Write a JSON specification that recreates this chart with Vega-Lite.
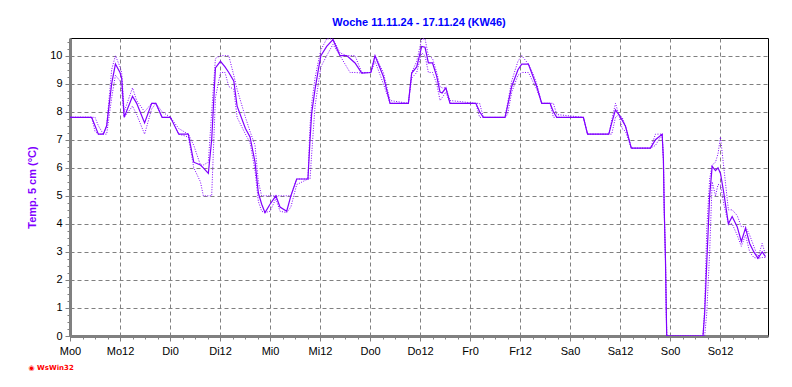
{
  "$schema": "https://vega.github.io/schema/vega-lite/v6.json",
  "width": 698,
  "height": 298,
  "autosize": "none",
  "padding": {"left": 70, "top": 38, "right": 24, "bottom": 51},
  "background": "white",
  "config": {"view": {"stroke": "black", "strokeWidth": 1}, "font": "Liberation Sans"},
  "title": {"text": "Woche 11.11.24 - 17.11.24 (KW46)", "color": "#0000ff", "fontSize": 11, "fontWeight": "bold", "font": "Liberation Sans", "offset": 10, "anchor": "middle"},
  "data": {"values": [
    {"h":0,"a":7.8,"mx":7.8,"mn":7.8},{"h":5.2,"a":7.8,"mx":7.8,"mn":7.8},{"h":6.0,"a":7.5,"mx":7.8,"mn":7.3},{"h":6.8,"a":7.2,"mx":7.5,"mn":7.2},
    {"h":8.0,"a":7.2,"mx":7.2,"mn":7.2},{"h":8.8,"a":7.5,"mx":7.5,"mn":7.2},{"h":10.0,"a":9.0,"mx":9.5,"mn":8.5},{"h":10.9,"a":9.7,"mx":10.0,"mn":9.3},
    {"h":12.0,"a":9.4,"mx":9.6,"mn":9.1},{"h":12.4,"a":9.2,"mx":9.4,"mn":8.8},{"h":13.0,"a":7.8,"mx":8.0,"mn":7.8},{"h":15.0,"a":8.55,"mx":8.85,"mn":8.2},
    {"h":16.0,"a":8.3,"mx":8.4,"mn":7.9},{"h":17.9,"a":7.6,"mx":8.0,"mn":7.2},{"h":19.6,"a":8.3,"mx":8.3,"mn":8.1},{"h":20.6,"a":8.3,"mx":8.3,"mn":8.3},
    {"h":22.1,"a":7.8,"mx":8.0,"mn":7.8},{"h":24.1,"a":7.8,"mx":7.8,"mn":7.8},{"h":26.1,"a":7.2,"mx":7.4,"mn":7.2},{"h":28.4,"a":7.2,"mx":7.2,"mn":7.1},
    {"h":29.7,"a":6.2,"mx":6.8,"mn":6.0},{"h":31.3,"a":6.1,"mx":6.1,"mn":5.5},{"h":32.0,"a":6.0,"mx":6.1,"mn":5.0},{"h":33.2,"a":5.8,"mx":6.2,"mn":5.0},
    {"h":34.0,"a":7.0,"mx":8.0,"mn":5.0},{"h":34.9,"a":9.56,"mx":9.9,"mn":8.5},{"h":36.1,"a":9.8,"mx":10.0,"mn":9.4},{"h":37.2,"a":9.6,"mx":10.0,"mn":9.4},
    {"h":38.1,"a":9.4,"mx":10.0,"mn":8.9},{"h":39.3,"a":9.1,"mx":9.3,"mn":8.8},{"h":40.1,"a":8.2,"mx":8.8,"mn":7.8},{"h":42.1,"a":7.4,"mx":7.8,"mn":7.2},
    {"h":43.2,"a":7.1,"mx":7.3,"mn":6.9},{"h":44.4,"a":6.2,"mx":6.8,"mn":5.9},{"h":45.2,"a":5.1,"mx":5.5,"mn":4.8},{"h":46.0,"a":4.7,"mx":5.0,"mn":4.45},
    {"h":46.8,"a":4.4,"mx":5.0,"mn":4.4},{"h":48.0,"a":4.7,"mx":5.0,"mn":4.45},{"h":49.4,"a":5.0,"mx":5.0,"mn":4.9},{"h":50.4,"a":4.6,"mx":5.0,"mn":4.45},
    {"h":52.0,"a":4.45,"mx":5.0,"mn":4.4},{"h":53.0,"a":5.0,"mx":5.0,"mn":4.6},{"h":54.4,"a":5.6,"mx":5.6,"mn":5.4},{"h":57.1,"a":5.6,"mx":5.6,"mn":5.6},
    {"h":57.6,"a":7.0,"mx":7.5,"mn":5.6},{"h":58.0,"a":7.95,"mx":8.3,"mn":6.5},{"h":58.8,"a":8.8,"mx":9.2,"mn":8.2},{"h":59.6,"a":9.5,"mx":9.8,"mn":9.0},
    {"h":60.2,"a":10.0,"mx":10.2,"mn":9.6},{"h":61.6,"a":10.33,"mx":10.6,"mn":10.0},{"h":63.1,"a":10.57,"mx":10.6,"mn":10.4},{"h":64.8,"a":10.0,"mx":10.1,"mn":10.0},
    {"h":66.4,"a":10.0,"mx":10.0,"mn":9.6},{"h":67.2,"a":9.9,"mx":10.0,"mn":9.4},{"h":68.4,"a":9.74,"mx":10.0,"mn":9.4},{"h":70.0,"a":9.38,"mx":9.4,"mn":9.38},
    {"h":72.2,"a":9.4,"mx":9.4,"mn":9.4},{"h":73.2,"a":10.0,"mx":10.0,"mn":9.8},{"h":75.2,"a":9.26,"mx":9.4,"mn":9.0},{"h":76.8,"a":8.3,"mx":8.4,"mn":8.3},
    {"h":81.2,"a":8.3,"mx":8.3,"mn":8.3},{"h":82.0,"a":9.38,"mx":9.4,"mn":9.2},{"h":83.2,"a":9.6,"mx":9.8,"mn":9.4},{"h":84.4,"a":10.33,"mx":10.6,"mn":10.1},
    {"h":85.2,"a":10.3,"mx":10.6,"mn":10.0},{"h":86.0,"a":9.74,"mx":10.0,"mn":9.4},{"h":87.0,"a":9.74,"mx":9.9,"mn":9.4},{"h":88.0,"a":9.26,"mx":9.4,"mn":9.0},
    {"h":88.8,"a":8.7,"mx":8.9,"mn":8.4},{"h":89.3,"a":8.67,"mx":8.85,"mn":8.5},{"h":90.2,"a":8.85,"mx":8.85,"mn":8.7},{"h":91.2,"a":8.3,"mx":8.4,"mn":8.3},
    {"h":97.4,"a":8.3,"mx":8.3,"mn":8.3},{"h":98.3,"a":8.0,"mx":8.3,"mn":7.8},{"h":99.2,"a":7.8,"mx":7.8,"mn":7.8},{"h":104.4,"a":7.8,"mx":7.8,"mn":7.8},
    {"h":105.0,"a":8.2,"mx":8.3,"mn":7.9},{"h":106.0,"a":8.9,"mx":9.1,"mn":8.7},{"h":107.5,"a":9.5,"mx":9.8,"mn":9.3},{"h":108.4,"a":9.7,"mx":10.0,"mn":9.4},
    {"h":110.0,"a":9.7,"mx":9.7,"mn":9.4},{"h":111.0,"a":9.3,"mx":9.4,"mn":9.1},{"h":112.0,"a":8.9,"mx":9.0,"mn":8.8},{"h":113.2,"a":8.3,"mx":8.3,"mn":8.3},
    {"h":115.2,"a":8.3,"mx":8.3,"mn":8.3},{"h":116.0,"a":8.0,"mx":8.3,"mn":7.8},{"h":116.8,"a":7.8,"mx":7.9,"mn":7.8},{"h":123.2,"a":7.8,"mx":7.8,"mn":7.8},
    {"h":124.2,"a":7.2,"mx":7.2,"mn":7.2},{"h":129.3,"a":7.2,"mx":7.2,"mn":7.2},{"h":130.0,"a":7.6,"mx":7.7,"mn":7.2},{"h":130.9,"a":8.07,"mx":8.3,"mn":7.8},
    {"h":131.7,"a":7.9,"mx":7.9,"mn":7.9},{"h":132.5,"a":7.7,"mx":7.8,"mn":7.4},{"h":133.3,"a":7.48,"mx":7.5,"mn":7.3},{"h":134.7,"a":6.7,"mx":6.7,"mn":6.7},
    {"h":139.3,"a":6.7,"mx":6.7,"mn":6.7},{"h":140.5,"a":7.0,"mx":7.2,"mn":6.8},{"h":142.1,"a":7.2,"mx":7.2,"mn":7.2},{"h":142.4,"a":6.3,"mx":6.3,"mn":6.3},
    {"h":142.6,"a":4.5,"mx":4.5,"mn":4.5},{"h":142.9,"a":2.7,"mx":2.7,"mn":2.7},{"h":143.1,"a":0.8,"mx":0.8,"mn":0.8},{"h":143.2,"a":0,"mx":0,"mn":0},
    {"h":151.9,"a":0,"mx":0,"mn":0},{"h":152.3,"a":0.8,"mx":1.0,"mn":0},{"h":152.8,"a":2.6,"mx":3.8,"mn":0.8},{"h":153.5,"a":5.0,"mx":5.6,"mn":3.0},
    {"h":154.1,"a":6.05,"mx":6.1,"mn":5.5},{"h":154.9,"a":5.9,"mx":6.2,"mn":5.0},{"h":155.5,"a":6.0,"mx":6.5,"mn":5.4},{"h":156.1,"a":5.8,"mx":7.1,"mn":5.4},
    {"h":156.9,"a":5.1,"mx":6.0,"mn":4.7},{"h":158.0,"a":4.0,"mx":4.5,"mn":4.0},{"h":158.9,"a":4.26,"mx":4.5,"mn":4.0},{"h":160.1,"a":3.9,"mx":4.3,"mn":3.6},
    {"h":161.1,"a":3.37,"mx":3.9,"mn":3.2},{"h":162.1,"a":3.85,"mx":3.9,"mn":3.6},{"h":163.1,"a":3.3,"mx":3.6,"mn":3.0},{"h":164.1,"a":3.0,"mx":3.2,"mn":2.8},
    {"h":165.1,"a":2.77,"mx":2.8,"mn":2.77},{"h":166.1,"a":3.0,"mx":3.3,"mn":2.8},{"h":166.9,"a":2.83,"mx":2.9,"mn":2.8}
  ]},
  "layer": [
    {
      "mark": {"type": "line", "color": "#8000ff", "strokeWidth": 1, "strokeDash": [1, 1.5], "clip": true},
      "encoding": {
        "x": {"field": "h", "type": "quantitative", "scale": {"domain": [0, 167.5], "nice": false, "zero": false},
          "axis": {"values": [0,12,24,36,48,60,72,84,96,108,120,132,144,156],
            "labelExpr": "['Mo','Di','Mi','Do','Fr','Sa','So'][floor(datum.value/24)] + (datum.value % 24)",
            "grid": true, "gridColor": "#808080", "gridDash": [4, 3], "gridWidth": 1, "gridOpacity": 1,
            "domainColor": "#808080", "domainWidth": 3, "tickColor": "#808080", "tickSize": 5, "tickWidth": 1,
            "labelFont": "Liberation Sans", "labelFontSize": 11, "labelColor": "black", "labelPadding": 4, "labelFlush": false,
            "title": "◉ WsWin32", "titleColor": "#ff0000", "titleFontSize": 7, "titleFontWeight": "bold", "titleFont": "DejaVu Sans",
            "titleX": -42, "titleY": 31, "titleAlign": "left", "titleBaseline": "middle", "titleAnchor": null}},
        "y": {"field": "mx", "type": "quantitative", "scale": {"domain": [0, 10.63], "nice": false, "zero": false},
          "axis": {"values": [0,1,2,3,4,5,6,7,8,9,10],
            "grid": true, "gridColor": "#808080", "gridDash": [4, 3], "gridWidth": 1, "gridOpacity": 1,
            "domainColor": "#808080", "domainWidth": 3, "tickColor": "#808080", "tickSize": 5,
            "labelFont": "Liberation Sans", "labelFontSize": 11, "labelColor": "black", "labelPadding": 3,
            "title": "Temp. 5 cm (°C)", "titleColor": "#8000ff", "titleFont": "Liberation Sans", "titleFontSize": 11, "titleFontWeight": "bold",
            "titleAngle": 270, "titleX": -38, "titleY": 149, "titleAlign": "center", "titleBaseline": "middle"}}
      }
    },
    {
      "mark": {"type": "line", "color": "#8000ff", "strokeWidth": 1, "strokeDash": [1, 1.5], "clip": true},
      "encoding": {
        "x": {"field": "h", "type": "quantitative", "axis": null},
        "y": {"field": "mn", "type": "quantitative", "axis": null}
      }
    },
    {
      "mark": {"type": "line", "color": "#8000ff", "strokeWidth": 1.2, "clip": true},
      "encoding": {
        "x": {"field": "h", "type": "quantitative", "axis": null},
        "y": {"field": "a", "type": "quantitative", "axis": null}
      }
    },
    {
      "mark": {"type": "line", "opacity": 0},
      "encoding": {
        "x": {"field": "h", "type": "quantitative",
          "axis": {"orient": "bottom", "values": [3,6,9,15,18,21,27,30,33,39,42,45,51,54,57,63,66,69,75,78,81,87,90,93,99,102,105,111,114,117,123,126,129,135,138,141,147,150,153,159,162,165],
            "labels": false, "grid": false, "domain": false, "tickColor": "#808080", "tickSize": 3, "title": null}},
        "y": {"field": "a", "type": "quantitative",
          "axis": {"orient": "left", "values": [0.25,0.5,0.75,1.25,1.5,1.75,2.25,2.5,2.75,3.25,3.5,3.75,4.25,4.5,4.75,5.25,5.5,5.75,6.25,6.5,6.75,7.25,7.5,7.75,8.25,8.5,8.75,9.25,9.5,9.75,10.25,10.5],
            "labels": false, "grid": false, "domain": false, "tickColor": "#808080", "tickSize": 3, "title": null}}
      }
    }
  ],
  "resolve": {"axis": {"x": "independent", "y": "independent"}}
}
